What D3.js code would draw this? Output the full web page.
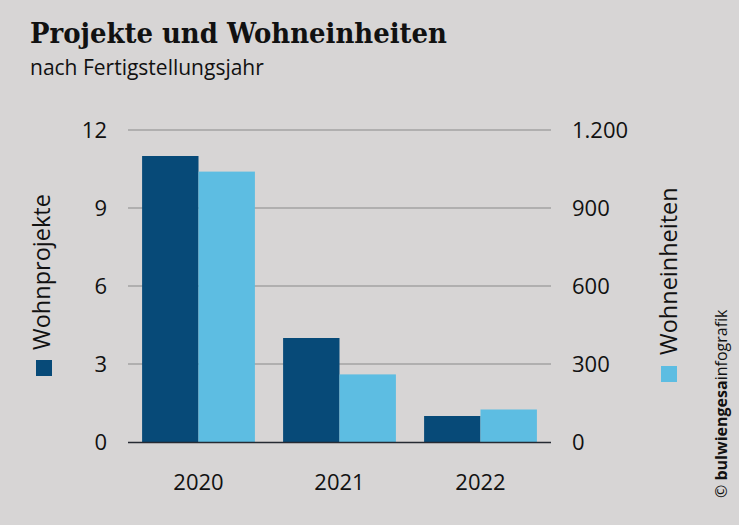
<!DOCTYPE html>
<html><head><meta charset="utf-8">
<script src="https://cdn.jsdelivr.net/npm/d3@7"></script>
<style>
html,body{margin:0;padding:0;background:#d7d5d5;}
svg{display:block;}
</style></head>
<body>
<script>
const years = ["2020","2021","2022"];
const projekte = [11, 4, 1];
const einheiten = [1040, 260, 125];
const leftTicks = [0,3,6,9,12];
const rightTicks = [0,300,600,900,1200];
const seriesNames = ["Wohnprojekte","Wohneinheiten"];
const colors = ["#074a78","#5dbde2"];

const W=739,H=525;
const SANS='"Open Sans",sans-serif';
const svg=d3.select("body").append("svg").attr("width",W).attr("height",H)
 .style("font-family",SANS);
svg.append("rect").attr("width",W).attr("height",H).attr("fill","#d7d5d5");

const x0=128,x1=551,yTop=130,yBot=442;
const x=d3.scaleBand().domain(years).range([x0,x1]).paddingInner(0.2).paddingOuter(0.1);
const xs=d3.scaleBand().domain([0,1]).range([0,x.bandwidth()]);
const yL=d3.scaleLinear().domain([0,12]).range([yBot,yTop]);
const yR=d3.scaleLinear().domain([0,1200]).range([yBot,yTop]);

// gridlines
svg.append("g").selectAll("line").data(leftTicks.filter(d=>d>0)).join("line")
 .attr("x1",x0).attr("x2",x1).attr("y1",d=>yL(d)).attr("y2",d=>yL(d))
 .attr("stroke","#8a8a8a").attr("stroke-width",1.2);

// bars
const g=svg.append("g");
g.selectAll("rect.p").data(projekte).join("rect")
 .attr("x",(d,i)=>x(years[i])+xs(0)).attr("width",xs.bandwidth())
 .attr("y",d=>yL(d)).attr("height",d=>yBot-yL(d)).attr("fill",colors[0]);
g.selectAll("rect.e").data(einheiten).join("rect")
 .attr("x",(d,i)=>x(years[i])+xs(1)).attr("width",xs.bandwidth())
 .attr("y",d=>yR(d)).attr("height",d=>yBot-yR(d)).attr("fill",colors[1]);

// baseline
svg.append("line").attr("x1",x0).attr("x2",x1).attr("y1",yBot+0.5).attr("y2",yBot+0.5)
 .attr("stroke","#252a33").attr("stroke-width",1.5);

const fmt=d3.formatLocale({decimal:",",thousands:".",grouping:[3],currency:["","€"]}).format(",");
function styleAxis(sel){
  sel.select(".domain").remove();
  sel.selectAll("text").style("font-family",SANS).style("font-size","22px").attr("fill","#111");
}
const la=svg.append("g").attr("transform",`translate(107,0)`)
 .call(d3.axisLeft(yL).tickValues(leftTicks).tickSize(0).tickPadding(0));
styleAxis(la);
const ra=svg.append("g").attr("transform",`translate(572,0)`)
 .call(d3.axisRight(yR).tickValues(rightTicks).tickSize(0).tickPadding(0).tickFormat(fmt));
styleAxis(ra);
const xa=svg.append("g").attr("transform",`translate(0,${yBot})`)
 .call(d3.axisBottom(x).tickSize(0).tickPadding(0));
styleAxis(xa);
xa.selectAll("text").attr("dy",null).attr("y",48);

// title
svg.append("text").attr("x",30).attr("y",43).text("Projekte und Wohneinheiten")
 .style("font-family",'"DejaVu Serif",serif').style("font-weight","bold").style("font-size","28px")
 .attr("textLength",417).attr("lengthAdjust","spacingAndGlyphs").attr("fill","#111");
svg.append("text").attr("x",30).attr("y",75).text("nach Fertigstellungsjahr")
 .style("font-size","21px").attr("fill","#111");

// series labels
svg.append("rect").attr("x",36).attr("y",360).attr("width",16).attr("height",16).attr("fill",colors[0]);
svg.append("text").attr("transform","translate(50,350) rotate(-90)").text(seriesNames[0])
 .style("font-size","23.5px").attr("fill","#111");
svg.append("rect").attr("x",661).attr("y",366).attr("width",16).attr("height",16).attr("fill",colors[1]);
svg.append("text").attr("transform","translate(677,355) rotate(-90)").text(seriesNames[1])
 .style("font-size","23.5px").attr("fill","#111");

// credit
const c=svg.append("text").attr("transform","translate(727,498) rotate(-90)").style("font-size","16px").attr("fill","#111");
c.append("tspan").text("© ");
c.append("tspan").text("bulwiengesa").style("font-weight","bold");
c.append("tspan").text("infografik");
</script>
</body></html>
